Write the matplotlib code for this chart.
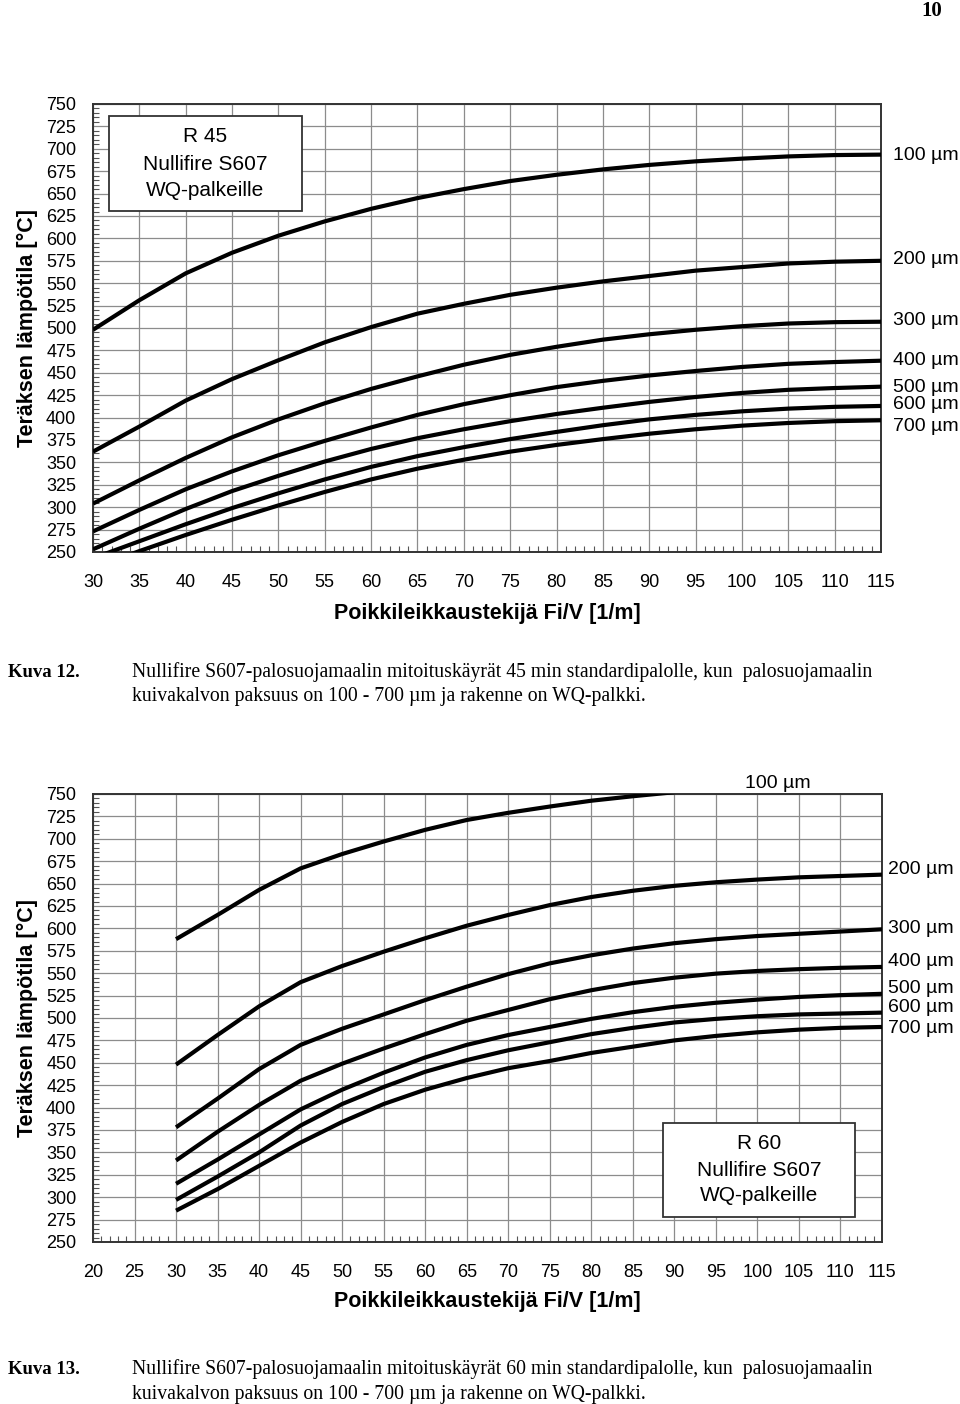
import matplotlib
matplotlib.use('Agg')
import matplotlib.pyplot as plt
from matplotlib.patches import Rectangle
from matplotlib.ticker import MultipleLocator

# ---------------- data ----------------
thickness = ['100 µm', '200 µm', '300 µm', '400 µm', '500 µm', '600 µm', '700 µm']

fiv_r45 = [30, 35, 40, 45, 50, 55, 60, 65, 70, 75, 80, 85, 90, 95, 100, 105, 110, 115]
r45_100 = [498, 531, 561, 584, 603, 619, 633, 645, 655, 664, 671, 677, 682, 686, 689, 691.5, 693, 693.5]
r45_200 = [362, 390, 419, 443, 464, 484, 501, 516, 527, 537, 545, 552, 558, 564, 568, 572, 574, 575]
r45_300 = [304, 330, 355, 378, 398, 416, 432, 446, 459, 470, 479, 487, 493, 498, 502, 505, 506.5, 507]
r45_400 = [273, 297, 320, 340, 358, 374, 389, 403, 415, 425, 434, 441, 447, 452, 456.5, 460, 462, 463.5]
r45_500 = [253, 276, 298, 318, 335, 351, 365, 377, 387, 396, 404, 411, 417.5, 423, 427.5, 431, 433, 434.5]
r45_600 = [243, 262, 281, 299, 315.5, 331, 345, 357, 367, 376, 384, 391.5, 398, 403, 407, 410, 412, 413]
r45_700 = [232, 251, 269, 286, 302, 317, 331, 343, 353, 362, 369.5, 376, 382, 387, 391, 394, 396, 397]

fiv_r60 = [30, 35, 40, 45, 50, 55, 60, 65, 70, 75, 80, 85, 90, 95, 100, 105, 110, 115]
r60_100 = [588, 615, 643, 667, 683, 697, 710, 721, 729, 736, 742.5, 747.5, 752]
r60_200 = [448, 481, 513, 540, 558, 574, 589, 603, 615, 626, 635, 642, 647.5, 651.5, 654.5, 657, 658.5, 660]
r60_300 = [378, 410, 443, 470, 488, 504, 520, 535, 549, 561, 570, 577.5, 583.5, 588, 591.5, 594, 596.5, 599]
r60_400 = [341, 373, 403, 430, 449, 466, 482, 497, 509, 521, 531, 539, 545, 549.5, 552.5, 554.5, 556, 557]
r60_500 = [315, 342, 370, 398, 420, 439, 456, 470, 481, 490, 499, 506.5, 512.5, 517, 520.5, 523.5, 525.5, 527]
r60_600 = [297, 323, 350, 380, 404, 423, 440, 453, 464, 473, 482, 489, 495, 499, 502, 504, 505, 506]
r60_700 = [285, 309, 335, 361, 384, 404, 420, 433, 444, 452, 461, 468, 475, 480, 484, 487, 489, 490]

y_ticks = list(range(250, 751, 25))
x_ticks_r45 = list(range(30, 116, 5))
x_ticks_r60 = list(range(20, 116, 5))

xlabel = 'Poikkileikkaustekijä Fi/V [1/m]'
ylabel = 'Teräksen lämpötila [°C]'

# ---------------- figure ----------------
W, H = 960, 1404
fig = plt.figure(figsize=(W / 100, H / 100), dpi=100)
SANS = 'Liberation Sans'
SERIF = 'Liberation Serif'


def setup(ax, xmin, xmax, xticks):
    ax.set_xlim(xmin, xmax)
    ax.set_ylim(250, 750)
    ax.set_xticks(xticks)
    ax.set_yticks(y_ticks)
    ax.xaxis.set_minor_locator(MultipleLocator(1))
    ax.yaxis.set_minor_locator(MultipleLocator(5))
    ax.set_axisbelow(True)
    ax.grid(True, which='major', color='#8c8c8c', lw=0.9)
    ax.tick_params(which='major', length=0, labelsize=13)
    ax.tick_params(axis='x', which='major', pad=16)
    ax.tick_params(axis='y', which='major', pad=12)
    ax.tick_params(which='minor', direction='in', length=4, width=0.8,
                   color='#555555', top=False, right=False)
    for lab in ax.get_xticklabels() + ax.get_yticklabels():
        lab.set_family(SANS)
    for sp in ax.spines.values():
        sp.set_color('#333333')
        sp.set_linewidth(1.4)


def info_box(ax, x0, x1, y0, y1, lines, ys, cx):
    ax.add_patch(Rectangle((x0, y0), x1 - x0, y1 - y0, transform=ax.transAxes,
                           facecolor='white', edgecolor='#333333', lw=1.3, zorder=5))
    for t, y in zip(lines, ys):
        ax.text(cx, y, t, transform=ax.transAxes, ha='center', va='center',
                fontsize=15, family=SANS, zorder=6)


# ---- chart 1 (R 45) ----
ax1 = fig.add_axes([93 / W, 1 - 552 / H, 788 / W, 448 / H])
setup(ax1, 30, 115, x_ticks_r45)
for s in [r45_100, r45_200, r45_300, r45_400, r45_500, r45_600, r45_700]:
    ax1.plot(fiv_r45[:len(s)], s, color='black', lw=3.0, solid_capstyle='butt',
             solid_joinstyle='round', zorder=3)
info_box(ax1, 0.0203, 0.265, 0.761, 0.973,
         ['R 45', 'Nullifire S607', 'WQ-palkeille'], [0.927, 0.866, 0.808], 0.1428)
label_y1 = [692, 576, 508, 464, 434, 415, 390]
for t, y in zip(thickness, label_y1):
    ax1.text(1.0152, y, t, transform=ax1.get_yaxis_transform(), ha='left', va='center',
             fontsize=14, family=SANS, clip_on=False)
fig.text(487 / W, 1 - 613 / H, xlabel, ha='center', va='center', fontsize=15.5,
         fontweight='bold', family=SANS)
fig.text(27 / W, 1 - 328 / H, ylabel, ha='center', va='center', rotation=90,
         fontsize=15.5, fontweight='bold', family=SANS)

# ---- chart 2 (R 60) ----
ax2 = fig.add_axes([93 / W, 1 - 1242 / H, 789 / W, 448 / H])
setup(ax2, 20, 115, x_ticks_r60)
for s in [r60_100, r60_200, r60_300, r60_400, r60_500, r60_600, r60_700]:
    ax2.plot(fiv_r60[:len(s)], s, color='black', lw=3.0, solid_capstyle='butt',
             solid_joinstyle='round', zorder=3)
info_box(ax2, 0.722, 0.9658, 0.0551, 0.2663,
         ['R 60', 'Nullifire S607', 'WQ-palkeille'], [0.2203, 0.1607, 0.1033], 0.8439)
ax2.text(102.4, 762, thickness[0], ha='center', va='center', fontsize=14,
         family=SANS, clip_on=False)
label_y2 = [665.5, 600, 562.5, 533, 512, 488.5]
for t, y in zip(thickness[1:], label_y2):
    ax2.text(1.0076, y, t, transform=ax2.get_yaxis_transform(), ha='left', va='center',
             fontsize=14, family=SANS, clip_on=False)
fig.text(487 / W, 1 - 1302 / H, xlabel, ha='center', va='center', fontsize=15.5,
         fontweight='bold', family=SANS)
fig.text(27 / W, 1 - 1018 / H, ylabel, ha='center', va='center', rotation=90,
         fontsize=15.5, fontweight='bold', family=SANS)

# ---- page text ----
fig.text(932 / W, 1 - 11 / H, '10', ha='center', va='center', fontsize=15,
         fontweight='bold', family=SERIF)

cap1 = ['Nullifire S607-palosuojamaalin mitoituskäyrät 45 min standardipalolle, kun  palosuojamaalin',
        'kuivakalvon paksuus on 100 - 700 µm ja rakenne on WQ-palkki.']
cap2 = ['Nullifire S607-palosuojamaalin mitoituskäyrät 60 min standardipalolle, kun  palosuojamaalin',
        'kuivakalvon paksuus on 100 - 700 µm ja rakenne on WQ-palkki.']
for kuva, lines, y0 in [('Kuva 12.', cap1, 672), ('Kuva 13.', cap2, 1369)]:
    fig.text(8 / W, 1 - y0 / H, kuva, ha='left', va='center', fontsize=13.5,
             fontweight='bold', family=SERIF)
    for i, ln in enumerate(lines):
        fig.text(132 / W, 1 - (y0 + 25 * i) / H, ln, ha='left', va='center',
                 fontsize=14.2, family=SERIF)

fig.savefig('out.png', dpi=100)
